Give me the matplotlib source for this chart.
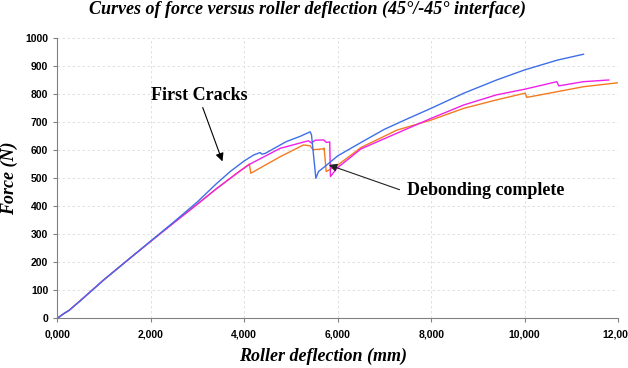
import numpy as np
import matplotlib
matplotlib.use("Agg")
import matplotlib.pyplot as plt
from matplotlib.ticker import FuncFormatter

# blue specimen
blue_x = [0, 150, 250, 500, 1000, 1500, 2000, 2500, 3000, 3400, 3700, 4000, 4200, 4340, 4380, 4450,
          4900, 5200, 5411, 5440, 5533, 5590, 5770, 6000, 6500, 7000, 7500, 8000, 8700, 9400,
          10000, 10700, 11260]
blue_y = [0, 18, 28, 64, 138, 207, 276, 345, 416, 480, 524, 562, 583, 592, 586, 589,
          631, 650, 666, 655, 500, 524, 548, 580, 628, 675, 713, 750, 804, 851,
          887, 922, 943]

# magenta specimen
pink_x = [0, 150, 250, 500, 1000, 1500, 2000, 2500, 3000, 3400, 3900, 4126, 4770, 5375, 5440,
          5520, 5700, 5760, 5830, 5845, 5983, 6500, 7268, 8000, 8700, 9400, 10000, 10690,
          10730, 11260, 11800]
pink_y = [0, 18, 28, 64, 138, 207, 275, 342, 408, 462, 525, 551, 607, 634, 626,
          636, 637, 628, 630, 506, 536, 605, 661, 714, 762, 798, 818, 845,
          830, 845, 851]

# orange specimen
orng_x = [0, 150, 250, 500, 1000, 1500, 2000, 2500, 3000, 3400, 3900, 4110, 4141, 4769, 5268,
          5411, 5470, 5690, 5710, 5754, 5983, 6500, 7268, 8000, 8700, 9400, 10010, 10050,
          10690, 11260, 11990]
orng_y = [0, 18, 28, 64, 138, 207, 275, 342, 408, 462, 525, 551, 518, 577, 619,
          616, 602, 605, 608, 524, 545, 610, 672, 708, 750, 780, 804, 789,
          809, 827, 841]

x_ticks = [0, 2000, 4000, 6000, 8000, 10000, 12000]
y_ticks = list(range(0, 1001, 100))

fig = plt.figure(figsize=(6.28, 3.68), dpi=100)
ax = fig.add_axes([0.0912, 0.135, 0.893, 0.761])

ax.plot(orng_x, orng_y, color="#f47a20", lw=1.0)
ax.plot(pink_x, pink_y, color="#f020e8", lw=1.0)
ax.plot(blue_x, blue_y, color="#3e6ee8", lw=1.0)

ax.set_xlim(0, 12000)
ax.set_ylim(0, 1000)
ax.set_xticks(x_ticks)
ax.set_yticks(y_ticks)
ax.xaxis.set_major_formatter(FuncFormatter(lambda v, p: f"{int(v)//1000},{int(v)%1000:03d}"))
ax.grid(True, color="#dcdcdc", lw=0.6, ls=(0, (3, 3)))
ax.set_axisbelow(True)
for s in ["top", "right"]:
    ax.spines[s].set_visible(False)
for s in ["left", "bottom"]:
    ax.spines[s].set_color("#808080")
    ax.spines[s].set_linewidth(0.8)
ax.tick_params(direction="out", length=3, width=0.8, color="#808080", pad=5)
ax.tick_params(axis="y", pad=3.5)
for lab in ax.get_xticklabels() + ax.get_yticklabels():
    lab.set_fontfamily("Liberation Sans")
    lab.set_fontweight("bold")
    lab.set_fontsize(7.5)
for lab in ax.get_xticklabels():
    lab.set_clip_on(False)

serif = "Liberation Serif"
ax.set_xlabel("Roller deflection (mm)", fontfamily=serif, fontweight="bold",
              fontstyle="italic", fontsize=13, labelpad=4)
ax.xaxis.set_label_coords(0.474, -0.105)
ax.set_ylabel("Force (N)", fontfamily=serif, fontweight="bold",
              fontstyle="italic", fontsize=13, labelpad=5)
fig.text(0.489, 0.975, "Curves of force versus roller deflection (45°/-45° interface)",
         fontfamily=serif, fontweight="bold", fontstyle="italic", fontsize=13,
         ha="center", va="center")

ax.annotate("", xy=(3555, 551), xytext=(3092, 762),
            arrowprops=dict(arrowstyle="-|>", color="black", lw=0.8, mutation_scale=12))
ax.text(3034, 797, "First Cracks", fontfamily=serif, fontweight="bold", fontsize=13,
        ha="center", va="center")
ax.annotate("", xy=(5754, 551), xytext=(7380, 456),
            arrowprops=dict(arrowstyle="-|>", color="#222222", lw=0.8, mutation_scale=12))
ax.text(7488, 458, "Debonding complete", fontfamily=serif, fontweight="bold", fontsize=13,
        ha="left", va="center")

fig.savefig("out.png", dpi=100)
